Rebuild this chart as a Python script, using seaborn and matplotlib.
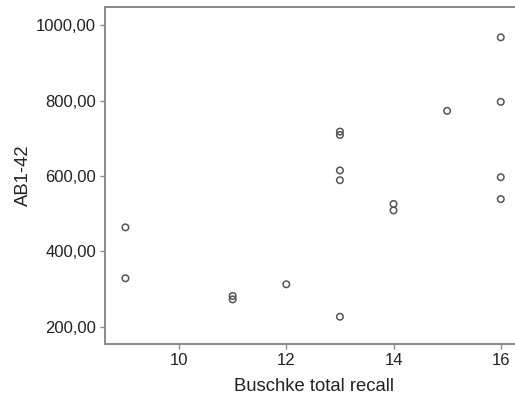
import matplotlib
matplotlib.use("Agg")
import matplotlib.pyplot as plt
import matplotlib.ticker as mticker
import seaborn as sns
import pandas as pd

recall = [9, 9, 11, 11, 12, 13, 13, 13, 13, 13, 14, 14, 15, 16, 16, 16, 16]
ab142 = [464, 329, 282, 273, 313, 227, 718, 709, 615, 589, 526, 509, 773, 968, 797, 597, 539]
x_ticks = [10, 12, 14, 16]
y_ticks = [200, 400, 600, 800, 1000]

df = pd.DataFrame({"Buschke total recall": recall, "AB1-42": ab142})

sns.set_style("white")
plt.rcParams["font.family"] = ["Liberation Sans", "DejaVu Sans"]

fig = plt.figure(figsize=(5.15, 3.98), dpi=100)
ax = fig.add_axes([0.204, 0.136, 0.81, 0.846])

sns.scatterplot(data=df, x="Buschke total recall", y="AB1-42", ax=ax,
                marker="o", s=22, facecolors="none", edgecolor="#555555", linewidth=1.1)

ax.set_xlim(8.62, 16.4)
ax.set_ylim(155, 1048)
ax.set_xticks(x_ticks)
ax.set_yticks(y_ticks)
ax.yaxis.set_major_formatter(mticker.FuncFormatter(lambda v, p: f"{v:.2f}".replace(".", ",")))

for sp in ax.spines.values():
    sp.set_color("#8a8a8a")
    sp.set_linewidth(1.4)
ax.spines["right"].set_visible(False)
ax.tick_params(axis="both", direction="out", length=3.5, width=1, color="#8a8a8a",
               labelsize=12, labelcolor="#222222", pad=3, left=True, bottom=True)
ax.set_xlabel("Buschke total recall", fontsize=13.3, color="#222222", labelpad=7)
ax.set_ylabel("AB1-42", fontsize=13.3, color="#222222", labelpad=3)

fig.savefig("out.png", dpi=100)
